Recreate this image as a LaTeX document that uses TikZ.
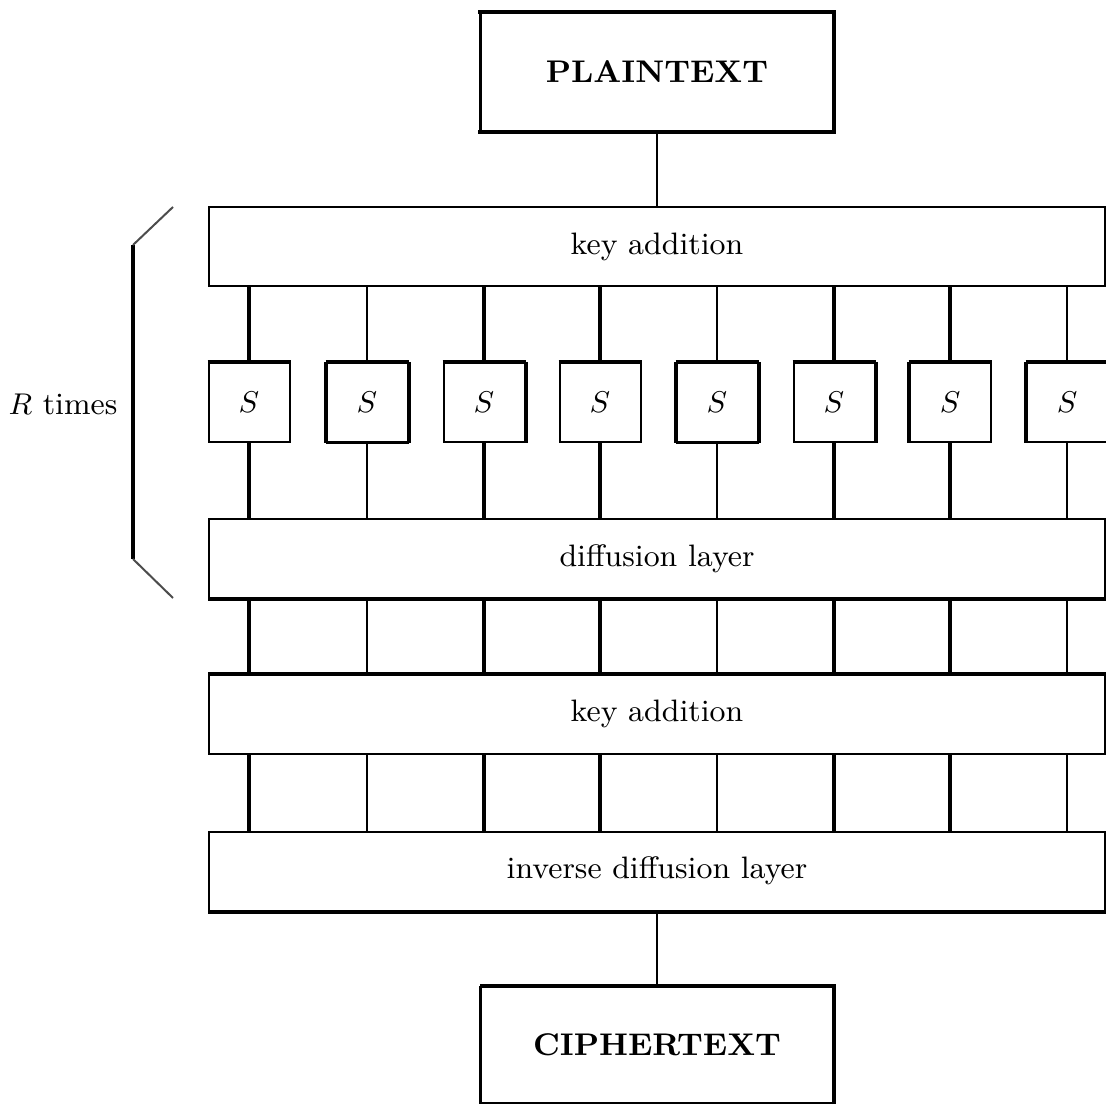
\documentclass[tikz,border=0pt]{standalone}
\begin{document}
\begin{tikzpicture}[x=0.3pt,y=-0.3pt,
  thn/.style={line width=0.6pt},
  thk/.style={line width=1.2pt},
  med/.style={line width=0.9pt},
  every node/.style={font=\fontsize{9.3}{11}\selectfont},
  layer/.style={draw,thn,rectangle,inner sep=0pt,minimum width=268.8pt,minimum height=23.7pt},
  sbox/.style={draw,thn,rectangle,inner sep=0pt,minimum width=24.3pt,minimum height=23.7pt},
  textbox/.style={draw,thn,rectangle,inner sep=0pt,minimum width=105.6pt,minimum height=35.4pt,font=\fontsize{9.4}{11}\selectfont\bfseries}]
\useasboundingbox (0,0) rectangle (1106,1105);
% main blocks
\node[textbox] (plain) at (657,72) {PLAINTEXT};
\node[layer] (key1) at (657,247) {key addition};
\node[layer] (diff) at (657,559) {diffusion layer};
\node[layer] (key2) at (657,714) {key addition};
\node[layer] (inv) at (657,871) {inverse diffusion layer};
\node[textbox,minimum height=34.8pt] (cipher) at (657,1045) {CIPHERTEXT};
% S boxes
\foreach \i/\x in {1/249,2/367,3/484,4/600,5/717,6/834,7/950,8/1067}{
  \node[sbox] (s\i) at (\x,402.5) {$S$};
}
% heavier sides (as rendered)
\draw[thk,line cap=rect] (plain.north west) -- (plain.north east) -- (plain.south east) -- (plain.south west);
\draw[med] (plain.south west) -- (plain.north west);
\draw[thk] (cipher.south east) -- (cipher.north east) -- (cipher.north west);
\draw[med] (cipher.north west) -- (cipher.south west);
\draw[thk] (diff.south west) -- (diff.south east);
\draw[thk] (key2.north west) -- (key2.north east);
\draw[thk] (inv.south west) -- (inv.south east);
\foreach \i in {1,...,8}{
  \draw[thk] (s\i.north west) -- (s\i.north east);
}
\foreach \i in {2,5}{
  \draw[thk] (s\i.north west) -- (s\i.south west);
  \draw[thk] (s\i.north east) -- (s\i.south east);
  \draw[med] (s\i.south west) -- (s\i.south east);
}
\foreach \i in {3,6}{
  \draw[thk] (s\i.north east) -- (s\i.south east);
}
\foreach \i in {7,8}{
  \draw[thk] (s\i.north west) -- (s\i.south west);
}
% connectors
\draw[thn] (plain.south) -- (plain.south |- key1.north);
\draw[thn] (inv.south -| cipher.north) -- (cipher.north);
\foreach \i/\w in {1/thk,2/thn,3/thk,4/thk,5/thn,6/thk,7/thk,8/thn}{
  \draw[\w] (s\i.north) -- (s\i.north |- key1.south);
  \draw[\w] (s\i.south) -- (s\i.south |- diff.north);
  \draw[\w] (s\i.south |- diff.south) -- (s\i.south |- key2.north);
  \draw[\w] (s\i.south |- key2.south) -- (s\i.south |- inv.north);
}
% round bracket
\coordinate (bt) at (133,245);
\coordinate (bb) at (133,559);
\draw[thk] (bt) -- (bb);
\draw[thn,black!70] (bt) -- (173,207);
\draw[thn,black!70] (bb) -- (173,598);
\node (rtimes) at (63,404) {$R$ times};
\end{tikzpicture}
\end{document}
